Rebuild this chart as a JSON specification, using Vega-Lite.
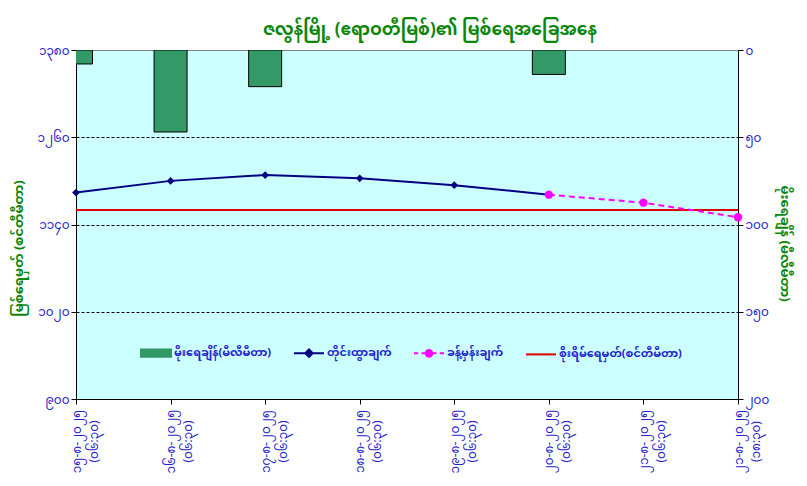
{
  "$schema": "https://vega.github.io/schema/vega-lite/v6.json",
  "autosize": "none",
  "width": 662,
  "height": 349,
  "padding": {"left": 76, "top": 50, "right": 69, "bottom": 87},
  "background": "white",
  "config": {
    "font": "Noto Sans Myanmar, Padauk, Myanmar Text, Noto Sans, sans-serif",
    "view": {"fill": "#ccffff", "stroke": "#808080", "strokeWidth": 1},
    "legend": {
      "title": null,
      "orient": "none",
      "legendX": 64,
      "legendY": 287,
      "direction": "horizontal",
      "columns": 4,
      "columnPadding": 18,
      "labelOffset": 2,
      "labelColor": "#2222cc",
      "labelFontSize": 11.2,
      "labelFontWeight": "bold",
      "symbolSize": 900,
      "symbolStrokeWidth": 2,
      "symbolOpacity": 1,
      "labelLimit": 300
    }
  },
  "title": {
    "text": "ဇလွန်မြို့ (ဧရာဝတီမြစ်)၏ မြစ်ရေအခြေအနေ",
    "color": "#0a860a",
    "fontSize": 17,
    "fontWeight": "bold",
    "anchor": "middle",
    "dx": 23,
    "offset": 5
  },
  "data": {
    "values": [
      {"label": "၁၅-၈-၂၀၂၅|(၀၆:၃၀)", "level": 1184, "forecast": null, "danger": 1160, "rain": 8},
      {"label": "၁၆-၈-၂၀၂၅|(၀၆:၃၀)", "level": 1200, "forecast": null, "danger": 1160, "rain": 47},
      {"label": "၁၇-၈-၂၀၂၅|(၀၆:၃၀)", "level": 1208, "forecast": null, "danger": 1160, "rain": 21},
      {"label": "၁၈-၈-၂၀၂၅|(၀၆:၃၀)", "level": 1203.5, "forecast": null, "danger": 1160, "rain": null},
      {"label": "၁၉-၈-၂၀၂၅|(၀၆:၃၀)", "level": 1194, "forecast": null, "danger": 1160, "rain": null},
      {"label": "၂၀-၈-၂၀၂၅|(၀၆:၃၀)", "level": 1181, "forecast": 1181, "danger": 1160, "rain": 14},
      {"label": "၂၁-၈-၂၀၂၅|(၀၆:၃၀)", "level": null, "forecast": 1170, "danger": 1160, "rain": null},
      {"label": "၂၁-၈-၂၀၂၅|(၁၈:၃၀)", "level": null, "forecast": 1150, "danger": 1160, "rain": null}
    ]
  },
  "encoding": {
    "x": {
      "field": "label",
      "type": "ordinal",
      "sort": [
        "၁၅-၈-၂၀၂၅|(၀၆:၃၀)",
        "၁၆-၈-၂၀၂၅|(၀၆:၃၀)",
        "၁၇-၈-၂၀၂၅|(၀၆:၃၀)",
        "၁၈-၈-၂၀၂၅|(၀၆:၃၀)",
        "၁၉-၈-၂၀၂၅|(၀၆:၃၀)",
        "၂၀-၈-၂၀၂၅|(၀၆:၃၀)",
        "၂၁-၈-၂၀၂၅|(၀၆:၃၀)",
        "၂၁-၈-၂၀၂၅|(၁၈:၃၀)"
      ],
      "scale": {"type": "point", "padding": 0},
      "axis": {
        "title": null,
        "labelExpr": "split(datum.label, '|')",
        "labelAngle": -90,
        "labelAlign": "center",
        "labelBaseline": "middle",
        "labelPadding": 37,
        "labelLineHeight": 17,
        "labelColor": "#2222cc",
        "labelFontSize": 12,
        "domainColor": "black",
        "tickColor": "black",
        "tickSize": 5,
        "labelOverlap": false
      }
    }
  },
  "layer": [
    {
      "mark": {"type": "bar", "width": 33, "clip": true, "stroke": "black", "strokeWidth": 1},
      "encoding": {
        "y": {
          "field": "rain",
          "type": "quantitative",
          "scale": {"domain": [0, 200], "reverse": true},
          "axis": {
            "orient": "right",
            "values": [0, 50, 100, 150, 200],
            "labelExpr": "datum.value == 0 ? '၀' : datum.value == 50 ? '၅၀' : datum.value == 100 ? '၁၀၀' : datum.value == 150 ? '၁၅၀' : '၂၀၀'",
            "labelColor": "#2222cc",
            "labelFontSize": 12,
            "grid": false,
            "domainColor": "black",
            "tickColor": "black",
            "tickSize": 5,
            "title": "မိုးရေချိန် (မီလီမီတာ)",
            "titleColor": "#0a860a",
            "titleFontSize": 13,
            "titleFontWeight": "bold",
            "titleAngle": 90,
            "titleX": 46,
            "titleY": 193,
            "titleAlign": "center",
            "titleBaseline": "middle"
          }
        },
        "color": {
          "datum": "မိုးရေချိန်(မီလီမီတာ)",
          "scale": {
            "domain": ["မိုးရေချိန်(မီလီမီတာ)", "တိုင်းထွာချက်", "ခန့်မှန်းချက်", "စိုးရိမ်ရေမှတ်(စင်တီမီတာ)"],
            "range": ["#339966", "#000080", "#ff00ff", "#e00000"]
          }
        }
      }
    },
    {
      "layer": [
        {
          "mark": {"type": "line", "strokeWidth": 2},
          "encoding": {
            "y": {"field": "danger", "type": "quantitative"},
            "color": {"datum": "စိုးရိမ်ရေမှတ်(စင်တီမီတာ)"}
          }
        },
        {
          "mark": {"type": "line", "strokeWidth": 2},
          "encoding": {
            "y": {"field": "level", "type": "quantitative"},
            "color": {"datum": "တိုင်းထွာချက်"}
          }
        },
        {
          "mark": {"type": "point", "shape": "diamond", "filled": true, "size": 60, "opacity": 1},
          "encoding": {
            "y": {"field": "level", "type": "quantitative"},
            "color": {"datum": "တိုင်းထွာချက်"}
          }
        },
        {
          "mark": {"type": "line", "strokeWidth": 2, "strokeDash": [6, 4]},
          "encoding": {
            "y": {"field": "forecast", "type": "quantitative"},
            "color": {"datum": "ခန့်မှန်းချက်"}
          }
        },
        {
          "mark": {"type": "point", "filled": false, "size": 0, "opacity": 0},
          "encoding": {
            "y": {"field": "level", "type": "quantitative"},
            "color": {"datum": "တိုင်းထွာချက်"},
            "shape": {
              "datum": "တိုင်းထွာချက်",
              "scale": {
                "domain": ["မိုးရေချိန်(မီလီမီတာ)", "တိုင်းထွာချက်", "ခန့်မှန်းချက်", "စိုးရိမ်ရေမှတ်(စင်တီမီတာ)"],
                "range": [
                  "M-1,-0.24H1V0.24H-1ZM-1,-0.08H1M-1,0.08H1",
                  "M-1,0H1M0,-0.25L0.25,0L0,0.25L-0.25,0Z",
                  "M-1,0H-0.72M-0.5,0H-0.22M0.22,0H0.5M0.72,0H1M-0.22,0A0.22,0.22,0,1,0,0.22,0A0.22,0.22,0,1,0,-0.22,0Z",
                  "M-1,0H1"
                ]
              }
            }
          }
        },
        {
          "mark": {"type": "point", "shape": "circle", "filled": true, "size": 70, "opacity": 1},
          "encoding": {
            "y": {
              "field": "forecast",
              "type": "quantitative",
              "scale": {"domain": [900, 1380], "nice": false, "zero": false},
              "axis": {
                "orient": "left",
                "values": [900, 1020, 1140, 1260, 1380],
                "labelExpr": "datum.value == 900 ? '၉၀၀' : datum.value == 1020 ? '၁၀၂၀' : datum.value == 1140 ? '၁၁၄၀' : datum.value == 1260 ? '၁၂၆၀' : '၁၃၈၀'",
                "labelColor": "#2222cc",
                "labelFontSize": 12,
                "grid": true,
                "gridDash": [3, 2],
                "gridColor": {"condition": {"test": "datum.value == 900 || datum.value == 1380", "value": "transparent"}, "value": "black"},
                "gridWidth": 1,
                "domainColor": "black",
                "tickColor": "black",
                "tickSize": 5,
                "title": "မြစ်ရေမှတ် (စင်တီမီတာ)",
                "titleColor": "#0a860a",
                "titleFontSize": 13,
                "titleFontWeight": "bold",
                "titleAngle": -90,
                "titleX": -58,
                "titleY": 198,
                "titleAlign": "center",
                "titleBaseline": "middle"
              }
            },
            "color": {"datum": "ခန့်မှန်းချက်"}
          }
        }
      ]
    }
  ],
  "resolve": {"scale": {"y": "independent"}}
}
